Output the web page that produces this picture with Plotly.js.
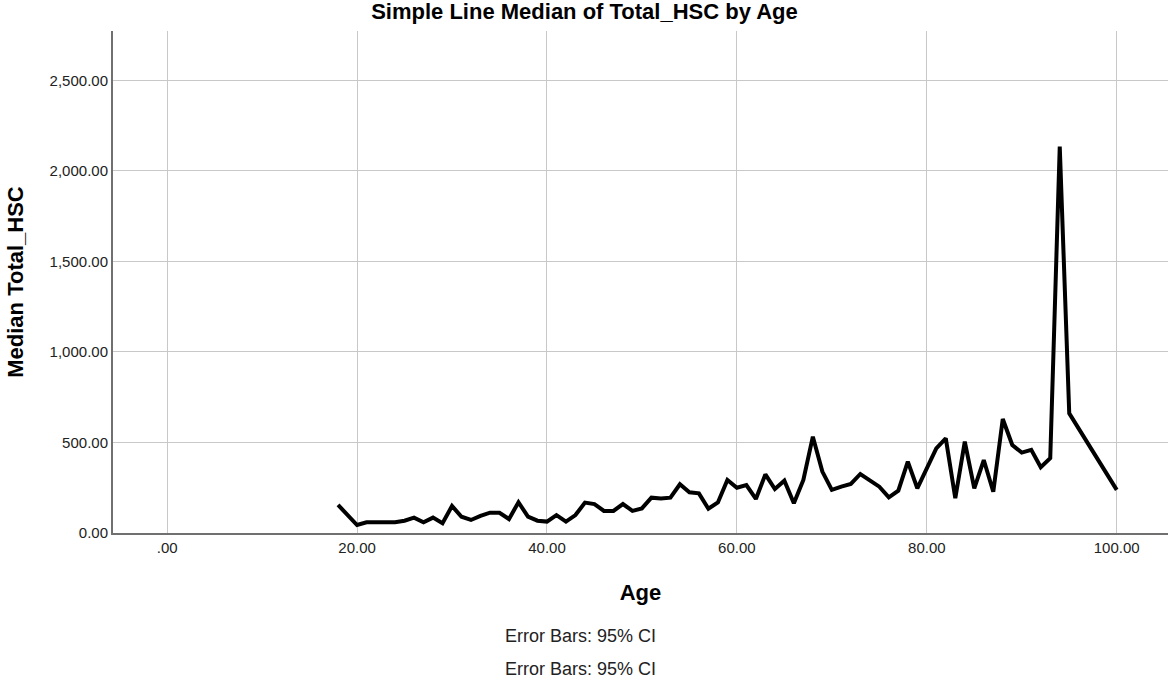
<!DOCTYPE html>
<html>
<head>
<meta charset="utf-8">
<script src="https://cdn.plot.ly/plotly-3.0.1.min.js"></script>
<style>html,body{margin:0;padding:0;background:#fff;}#chart{width:1169px;height:687px;}</style>
</head>
<body>
<div id="chart"></div>
<script>
const ages = [18,20,21,22,23,24,25,26,27,28,29,30,31,32,33,34,35,36,37,38,39,40,41,42,43,44,45,46,47,48,49,50,51,52,53,54,55,56,57,58,59,60,61,62,63,64,65,66,67,68,69,70,71,72,73,74,75,76,77,78,79,80,81,82,83,84,85,86,87,88,89,90,91,92,93,94,95,100];
const medianHSC = [155,44,59,60,61,60,68,85,59,85,54,149,90,72,94,112,112,77,170,90,68,63,99,63,99,168,160,122,122,160,122,136,195,190,195,269,225,219,134,169,293,250,265,188,324,243,289,164,293,532,339,238,256,271,326,289,256,197,234,394,247,357,468,523,192,505,247,403,228,630,486,444,459,363,413,2134,661,238];
const xTickVals = [0,20,40,60,80,100];
const xTickText = ['.00','20.00','40.00','60.00','80.00','100.00'];
const yTickVals = [0,500,1000,1500,2000,2500];
const yTickText = ['0.00','500.00','1,000.00','1,500.00','2,000.00','2,500.00'];
const footnotes = ['Error Bars: 95% CI','Error Bars: 95% CI'];

const font = 'Liberation Sans, Arial, sans-serif';
const trace = {
  x: ages, y: medianHSC, type: 'scatter', mode: 'lines',
  line: {color: '#000000', width: 4}, hoverinfo: 'skip'
};
const layout = {
  width: 1169, height: 687,
  margin: {l: 113, r: 1, t: 31, b: 154},
  paper_bgcolor: '#ffffff', plot_bgcolor: '#ffffff',
  showlegend: false,
  font: {family: font, color: '#222222'},
  title: {text: '<b>Simple Line Median of Total_HSC by Age</b>', font: {size: 22, family: font, color: '#000'}, x: 0.5, xanchor: 'center', y: 0.983, yanchor: 'middle', xref: 'container', yref: 'container'},
  xaxis: {
    range: [-5.7, 105.4], tickvals: xTickVals, ticktext: xTickText,
    showgrid: true, gridcolor: '#c8c8c8', gridwidth: 1,
    zeroline: false, showline: true, linecolor: '#707070', linewidth: 2,
    ticks: '', tickfont: {size: 15, family: font, color: '#222'},
    title: {text: '<b>Age</b>', font: {size: 22, family: font, color: '#000'}, standoff: 30}
  },
  yaxis: {
    range: [0, 2773], tickvals: yTickVals, ticktext: yTickText,
    showgrid: true, gridcolor: '#c8c8c8', gridwidth: 1,
    zeroline: false, showline: true, linecolor: '#707070', linewidth: 2,
    ticks: '', tickfont: {size: 15, family: font, color: '#222'},
    title: {text: '<b>Median Total_HSC</b>', font: {size: 22, family: font, color: '#000'}, standoff: 20}
  },
  annotations: footnotes.map((t, i) => ({
    text: t, xref: 'paper', yref: 'paper', x: 0.4436, y: (533 - 636 - 33 * i) / 502,
    xanchor: 'center', yanchor: 'middle', showarrow: false,
    font: {size: 18, family: font, color: '#222'}
  }))
};
Plotly.newPlot('chart', [trace], layout, {displayModeBar: false, staticPlot: true});
</script>
</body>
</html>
